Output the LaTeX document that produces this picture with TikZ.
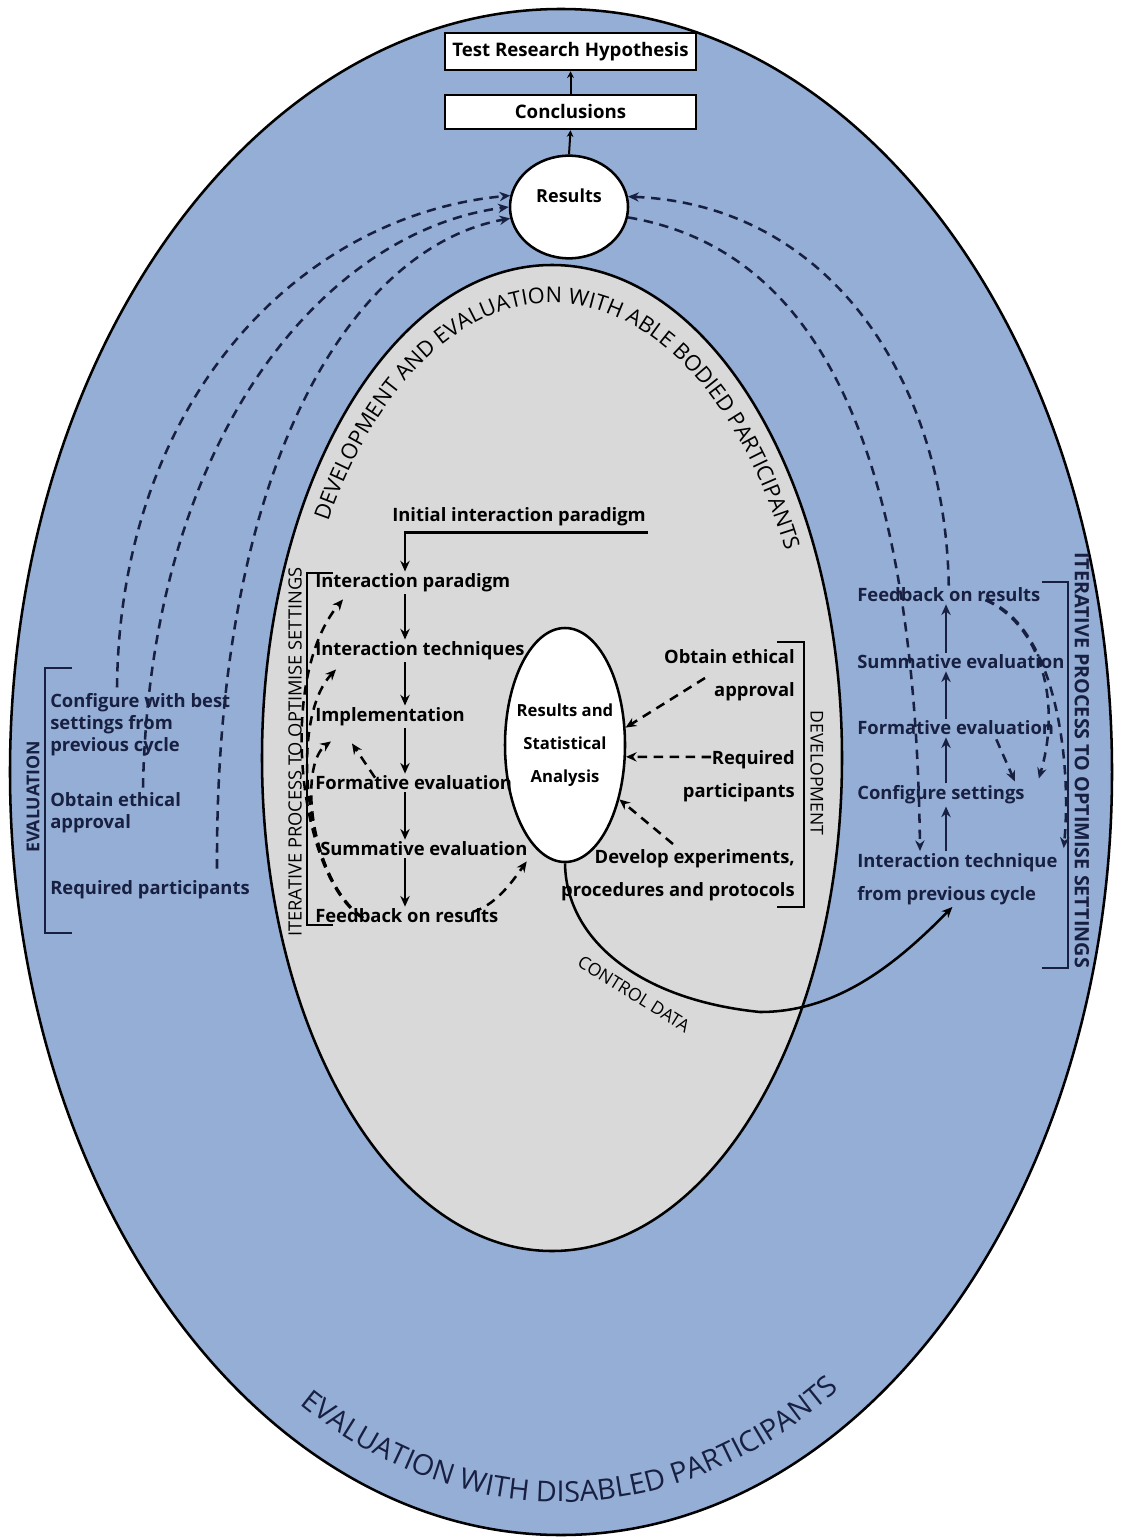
\documentclass[tikz,border=0pt]{standalone}
\usepackage{fontspec}
\setmainfont{Open Sans}
\usetikzlibrary{arrows.meta,calc,shapes.geometric,decorations.text}

\definecolor{diskblue}{RGB}{149,174,213}
\definecolor{ablegrey}{RGB}{217,217,217}
\definecolor{navyink}{RGB}{24,32,66}

\tikzset{every picture/.style={line width=1.9pt}}

\begin{document}
\begin{tikzpicture}[x=0.75pt,y=0.75pt,yscale=-1,xscale=1,
  item/.style={anchor=west,inner sep=0.75pt,font=\fontsize{13.8}{24.75}\selectfont\bfseries},
  ritem/.style={item,anchor=east,align=right},
  blueitem/.style={item,text=navyink},
  litem/.style={item,align=left,text=navyink,font=\fontsize{13.8}{16.5}\selectfont\bfseries},
  resbox/.style={draw,fill=white,minimum width=188pt,inner sep=0pt,font=\fontsize{14}{16}\selectfont\bfseries},
  arr/.style={-{Stealth[length=8pt,width=7pt]}},
  smallarr/.style={-{Stealth[length=5pt,width=5pt]},line width=1.5pt},
  dasharr/.style={arr,dash pattern=on 7pt off 5pt},
  vlabel/.style={inner sep=0.75pt,font=\fontsize{13.2}{15}\selectfont}]
\useasboundingbox[fill=white] (0,0) rectangle (1122,1540);

%Shape: Ellipse [disabled participants]
\draw[fill=diskblue] (561,772) ellipse [x radius=551,y radius=763];
%Shape: Ellipse [able bodied participants]
\draw[fill=ablegrey] (552,758) ellipse [x radius=290,y radius=493];

% Text along the rims
\path[decorate,decoration={text along path,text align=center,
  text={|\fontsize{16.3}{19}\selectfont|DEVELOPMENT AND EVALUATION WITH ABLE BODIED PARTICIPANTS}}]
  ($(552,758)+(196:262 and 455)$) arc[start angle=196,end angle=348,x radius=262,y radius=455];
\path[decorate,decoration={text along path,text align=center,text color=navyink,
  text={|\fontsize{21.5}{25}\selectfont|EVALUATION WITH DISABLED PARTICIPANTS}}]
  ($(561,772)+(132:522 and 730)$) arc[start angle=132,end angle=46,x radius=522,y radius=730];

% Text Node
\node[resbox,minimum height=27.75pt] (hyp) at (570.5,51.5) {Test Research Hypothesis};
% Text Node
\node[resbox,minimum height=25.5pt] (concl) at (570.5,112) {Conclusions};
%Shape: Ellipse [results]
\node[draw,fill=white,ellipse,minimum width=88.5pt,minimum height=77pt] (res) at (569,207) {};
% Text Node
\node[inner sep=0.75pt,font=\fontsize{13.5}{15}\selectfont\bfseries] (restxt) at (569,196) {Results};
%Straight Lines
\draw[smallarr] (res.north) -- (concl.south);
\draw[smallarr] (concl.north) -- (hyp.south);

%Shape: Ellipse [statistical analysis]
\node[draw,fill=white,ellipse,minimum width=90pt,minimum height=175.5pt] (rsa) at (565,745) {};
% Text Node
\node[inner sep=0.75pt,align=center,font=\fontsize{12.5}{24.75}\selectfont\bfseries] (rsatxt) at (565,745) {Results and\\Statistical\\Analysis};

% Text Node
\coordinate (lcol) at (405,0);
\node[item] (init) at (390,517) {Initial interaction paradigm};
\node[item] (ip) at (313,583) {Interaction paradigm};
\node[item] (it) at (313,651) {Interaction techniques};
\node[item] (impl) at (313,717) {Implementation};
\node[item] (fe) at (313,783) {Formative evaluation};
\node[item] (se) at (318,849) {Summative evaluation};
\node[item] (fb) at (313,916) {Feedback on results};

%Straight Lines
\draw[arr] ($(init.south east)+(0,4)$) -| (ip.north -| lcol);
\draw[arr] (ip.south -| lcol) -- (it.north -| lcol);
\draw[arr] (it.south -| lcol) -- (impl.north -| lcol);
\draw[arr] (impl.south -| lcol) -- (fe.north -| lcol);
\draw[arr] (fe.south -| lcol) -- (se.north -| lcol);
\draw[arr] (se.south -| lcol) -- (fb.north -| lcol);

%Curve Lines
\draw[dasharr] ($(fb.west)+(50,2)$) .. controls (300,880) and (275,680) .. ($(ip.south west)+(30,5)$);
\draw[dasharr] ($(fb.west)+(50,2)$) .. controls (305,880) and (288,720) .. ($(it.south west)+(23,7)$);
\draw[dasharr] ($(fb.west)+(50,2)$) .. controls (310,880) and (298,765) .. ($(impl.south west)+(18,13)$);
\draw[dasharr] ($(fe.north west)+(62,4)$) -- ($(impl.south west)+(39,15)$);
\draw[dasharr] ($(fb.east)+(-28,-4)$) .. controls (495,905) and (510,885) .. ($(se.south east)+(-3,3)$);

%Shape: Bracket
\draw (333,573) -- (307,573) -- (307,925) -- (333,925);
% Text Node
\node[vlabel,rotate=90,font=\fontsize{13.7}{15}\selectfont] (itl) at (295,752) {ITERATIVE PROCESS TO OPTIMISE SETTINGS};

% Text Node
\node[ritem] (eth) at (797,675) {Obtain ethical\\approval};
\node[ritem] (req) at (797,776) {Required\\participants};
\node[ritem] (dev) at (797,875) {Develop experiments,\\procedures and protocols};
%Shape: Bracket
\draw (777,642) -- (804,642) -- (804,907) -- (777,907);
% Text Node
\node[vlabel,rotate=-90] (devl) at (817,773) {DEVELOPMENT};

%Straight Lines
\draw[dasharr] ($(eth.east)+(-92,3)$) -- (rsa.16);
\draw[dasharr] ($(req.east)+(-86,-19)$) -- (rsa.-11);
\draw[dasharr] ($(dev.north)+(-5,-3)$) -- (rsa.-45);

% Text Node
\coordinate (rcol) at (946,0);
\node[blueitem] (rfb) at (855,595) {Feedback on results};
\node[blueitem] (rse) at (855,662) {Summative evaluation};
\node[blueitem] (rfe) at (855,728) {Formative evaluation};
\node[blueitem] (rcs) at (855,795) {Configure settings};
\node[blueitem,align=left] (rit) at (855,879) {Interaction technique\\from previous cycle};

%Curve Lines
\draw[arr] (rsa.south) .. controls (566,940) and (640,1000) .. (760,1012) .. controls (840,1012) and (900,960) .. ($(rit.south)+(-5,0)$);
% Text Node
\node[vlabel,rotate=-32] (ctl) at (634,994) {CONTROL DATA};

%Straight Lines
\draw[arr,navyink] (rit.north -| rcol) -- (rcs.south -| rcol);
\draw[arr,navyink] (rcs.north -| rcol) -- (rfe.south -| rcol);
\draw[arr,navyink] (rfe.north -| rcol) -- (rse.south -| rcol);
\draw[arr,navyink] (rse.north -| rcol) -- (rfb.south -| rcol);

%Curve Lines
\draw[dasharr,navyink] ($(rfe.south east)+(-60,2)$) -- ($(rcs.north east)+(-12,-2)$);
\draw[dasharr,navyink] ($(rfb.east)+(-57,5)$) .. controls (1040,625) and (1062,700) .. ($(rcs.north east)+(12,-5)$);
\draw[dasharr,navyink] ($(rfb.east)+(-57,5)$) .. controls (1055,625) and (1072,760) .. ($(rit.north east)+(4,-3)$);

%Shape: Bracket
\draw[navyink] (1042,582) -- (1068,582) -- (1068,968) -- (1042,968);
% Text Node
\node[vlabel,rotate=-90,text=navyink,font=\fontsize{14.8}{16}\selectfont\bfseries] (itr) at (1082,760) {ITERATIVE PROCESS TO OPTIMISE SETTINGS};

%Curve Lines
\draw[dasharr,navyink] (rfb.north) .. controls (945,380) and (830,205) .. (res.10);
\draw[dasharr,navyink] (res.-10) .. controls (820,250) and (915,450) .. ($(rit.north west)+(65,0)$);

% Text Node
\node[litem] (cfg) at (48,725) {Configure with best\\settings from\\previous cycle};
\node[litem] (leth) at (48,813) {Obtain ethical\\approval};
\node[litem] (lreq) at (48,890) {Required participants};
%Shape: Bracket
\draw[navyink] (72,668) -- (45,668) -- (45,933) -- (72,933);
% Text Node
\node[vlabel,rotate=90,text=navyink,font=\fontsize{13.3}{15}\selectfont\bfseries] (evl) at (33,797) {EVALUATION};

%Curve Lines
\draw[dasharr,navyink] ($(cfg.north west)+(69,-4)$) .. controls (120,400) and (300,215) .. (res.169);
\draw[dasharr,navyink] ($(leth.north west)+(95,-3)$) .. controls (150,430) and (330,230) .. (res.180);
\draw[dasharr,navyink] ($(lreq.north west)+(169,-10)$) .. controls (215,450) and (360,245) .. (res.191);

\end{tikzpicture}
\end{document}
